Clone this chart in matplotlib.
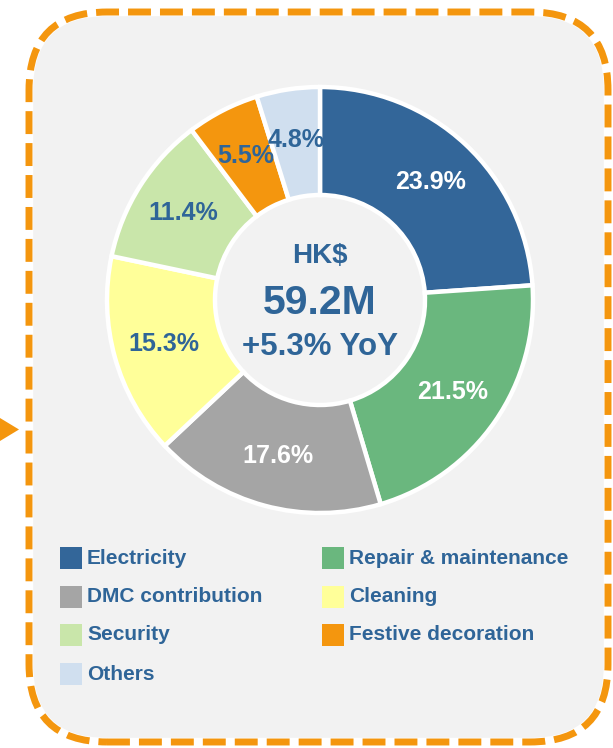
import matplotlib
matplotlib.use("Agg")
import matplotlib.pyplot as plt
from matplotlib.patches import FancyBboxPatch, Polygon, Rectangle

plt.rcParams['font.family'] = ['Liberation Sans', 'DejaVu Sans']

# ---- data ----
categories = ["Electricity", "Repair & maintenance", "DMC contribution", "Cleaning",
              "Security", "Festive decoration", "Others"]
shares = [23.9, 21.5, 17.6, 15.3, 11.4, 5.5, 4.8]
total_label = "HK$"
total_value = "59.2M"
yoy_label = "+5.3% YoY"

# ---- styles ----
colors = ["#336699", "#6AB77E", "#A5A5A5", "#FFFF99", "#C9E6AA", "#F4960E", "#D0DFEF"]
label_colors = ["white", "white", "white", "#2F6598", "#2F6598", "#2F6598", "#2F6598"]
TXT = "#2F6598"
ORANGE = "#F4960E"

W, H = 613, 748
fig = plt.figure(figsize=(W / 100, H / 100), dpi=100)
ax = fig.add_axes([0, 0, 1, 1])

def Y(y):  # image y (from top) -> data y
    return H - y

# background box
x0, y0, x1, y1 = 29, 12, 608, 742
rad = 78
box_fill = FancyBboxPatch((x0 + rad, Y(y1) + rad), (x1 - x0) - 2 * rad, (y1 - y0) - 2 * rad,
                          boxstyle=f"round,pad={rad}", facecolor="#F2F2F2",
                          edgecolor="white", linewidth=6.0, zorder=0)
ax.add_patch(box_fill)
box_dash = FancyBboxPatch((x0 + rad, Y(y1) + rad), (x1 - x0) - 2 * rad, (y1 - y0) - 2 * rad,
                          boxstyle=f"round,pad={rad}", facecolor="none",
                          edgecolor=ORANGE, linewidth=5.0, linestyle=(0, (3.3, 1.3)),
                          zorder=1)
ax.add_patch(box_dash)

# arrow triangle at left
ax.add_patch(Polygon([(0, Y(418)), (19, Y(429.5)), (0, Y(441))], closed=True,
                     facecolor=ORANGE, edgecolor="none", zorder=2))

# donut
cx, cy, R = 320, Y(300), 213
ring = 108
wedges, texts, autotexts = ax.pie(
    shares, colors=colors, startangle=90, counterclock=False,
    center=(cx, cy), radius=R, autopct=lambda p: f"{p:.1f}%",
    pctdistance=0.76,
    wedgeprops=dict(width=ring, edgecolor="white", linewidth=3.2),
    textprops=dict(fontsize=18, fontweight="bold"))
for t, c in zip(autotexts, label_colors):
    t.set_color(c)
    t.set_zorder(5)
for w in wedges:
    w.set_zorder(3)

# center text
ax.text(cx, Y(263), total_label, ha="center", va="baseline", fontsize=20,
        fontweight="bold", color=TXT, zorder=5)
ax.text(cx, Y(314), total_value, ha="center", va="baseline", fontsize=29.5,
        fontweight="bold", color=TXT, zorder=5)
ax.text(cx, Y(355), yoy_label, ha="center", va="baseline", fontsize=22.5,
        fontweight="bold", color=TXT, zorder=5)

# legend
col_x = [60, 322]
row_y = [558, 596.5, 635, 674]
sq = 22
for i, (name, col) in enumerate(zip(categories, colors)):
    cxl = col_x[i % 2]
    ry = row_y[i // 2]
    ax.add_patch(Rectangle((cxl, Y(ry + sq / 2)), sq, sq, facecolor=col,
                           edgecolor="none", zorder=4))
    ax.text(cxl + sq + 5, Y(ry), name, ha="left", va="center", fontsize=15,
            fontweight="bold", color=TXT, zorder=5)

ax.set_xlim(0, W)
ax.set_ylim(0, H)
ax.set_aspect("equal")
ax.axis("off")

fig.savefig("out.png", dpi=100, facecolor="white")
